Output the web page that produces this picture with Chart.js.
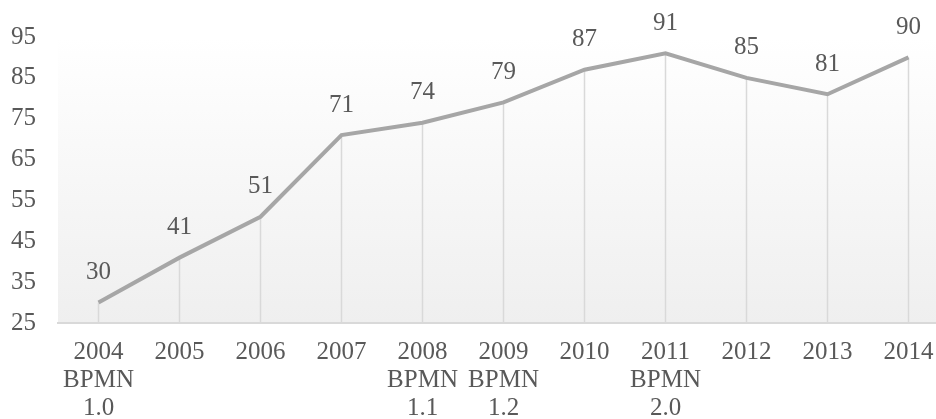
<!DOCTYPE html>
<html>
<head>
<meta charset="utf-8">
<script src="https://cdn.jsdelivr.net/npm/chart.js@4"></script>
<style>
  html, body { margin: 0; padding: 0; background: #ffffff; overflow: hidden; }
  #wrap { width: 936px; height: 419px; overflow: hidden; position: relative; }
  #carga { position: absolute; left: -999px; top: 0; font: 25px "Liberation Serif"; }
</style>
</head>
<body>
<div id="wrap"><canvas id="grafico" width="949" height="419"></canvas></div>
<span id="carga">2004 BPMN 1.0</span>
<script>
// dados do gráfico
const anos = ['2004', '2005', '2006', '2007', '2008', '2009', '2010', '2011', '2012', '2013', '2014'];
const versoes = ['BPMN\n1.0', '', '', '', 'BPMN\n1.1', 'BPMN\n1.2', '', 'BPMN\n2.0', '', '', ''];
const valores = [30, 41, 51, 71, 74, 79, 87, 91, 85, 81, 90];
const ticksY = [25, 35, 45, 55, 65, 75, 85, 95];

const fonte = '"Liberation Serif", serif';
const corTexto = '#595959';

const rotulos = anos.map(function (a, i) {
  return versoes[i] ? [a].concat(versoes[i].split('\n')) : a;
});

// fundo em degradê da área do gráfico
const fundoPlugin = {
  id: 'fundo',
  beforeDraw: function (chart) {
    const a = chart.chartArea;
    const ctx = chart.ctx;
    const g = ctx.createLinearGradient(0, a.top, 0, a.bottom);
    g.addColorStop(0, '#ffffff');
    g.addColorStop(1, '#efefef');
    ctx.save();
    ctx.fillStyle = g;
    ctx.fillRect(a.left, a.top, a.right - a.left, a.bottom - a.top);
    ctx.restore();
  }
};

// linhas verticais do ponto até o eixo
const linhasPlugin = {
  id: 'linhasQueda',
  beforeDatasetsDraw: function (chart) {
    const ctx = chart.ctx;
    const meta = chart.getDatasetMeta(0);
    const base = chart.chartArea.bottom;
    ctx.save();
    ctx.strokeStyle = '#d9d9d9';
    ctx.lineWidth = 1.5;
    meta.data.forEach(function (p) {
      ctx.beginPath();
      ctx.moveTo(p.x, p.y);
      ctx.lineTo(p.x, base);
      ctx.stroke();
    });
    ctx.restore();
  }
};

// rótulos de valor acima dos pontos
const rotulosPlugin = {
  id: 'rotulosValor',
  afterDatasetsDraw: function (chart) {
    const ctx = chart.ctx;
    const meta = chart.getDatasetMeta(0);
    ctx.save();
    ctx.font = '25px ' + fonte;
    ctx.fillStyle = corTexto;
    ctx.textAlign = 'center';
    ctx.textBaseline = 'middle';
    meta.data.forEach(function (p, i) {
      ctx.fillText(String(valores[i]), p.x, Math.max(p.y - 30, 19));
    });
    ctx.restore();
  }
};

function desenhar() {
  new Chart(document.getElementById('grafico'), {
    type: 'line',
    data: {
      labels: rotulos,
      datasets: [{
        data: valores,
        borderColor: '#a6a6a6',
        borderWidth: 4,
        pointRadius: 0,
        tension: 0,
        fill: false
      }]
    },
    options: {
      responsive: false,
      animation: false,
      devicePixelRatio: 1,
      layout: { padding: { top: 28, right: 0, bottom: 0, left: 0 } },
      plugins: {
        legend: { display: false },
        tooltip: { enabled: false }
      },
      scales: {
        x: {
          type: 'category',
          offset: true,
          grid: { display: true, drawOnChartArea: false, drawTicks: false },
          border: { display: true, color: '#d9d9d9', width: 2 },
          ticks: {
            color: corTexto,
            font: { family: fonte, size: 25, lineHeight: 1.12 },
            padding: 15,
            maxRotation: 0,
            autoSkip: false
          },
          afterFit: function (scale) { scale.height = 96; }
        },
        y: {
          min: 25,
          max: 95,
          afterBuildTicks: function (scale) {
            scale.ticks = ticksY.map(function (v) { return { value: v }; });
          },
          grid: { display: false, drawTicks: false },
          border: { display: false },
          ticks: {
            color: corTexto,
            font: { family: fonte, size: 25 },
            padding: 22
          },
          afterFit: function (scale) { scale.width = 58; }
        }
      }
    },
    plugins: [fundoPlugin, linhasPlugin, rotulosPlugin]
  });
}

if (document.fonts && document.fonts.load) {
  document.fonts.load('25px "Liberation Serif"').then(desenhar, desenhar);
} else {
  desenhar();
}
</script>
</body>
</html>
